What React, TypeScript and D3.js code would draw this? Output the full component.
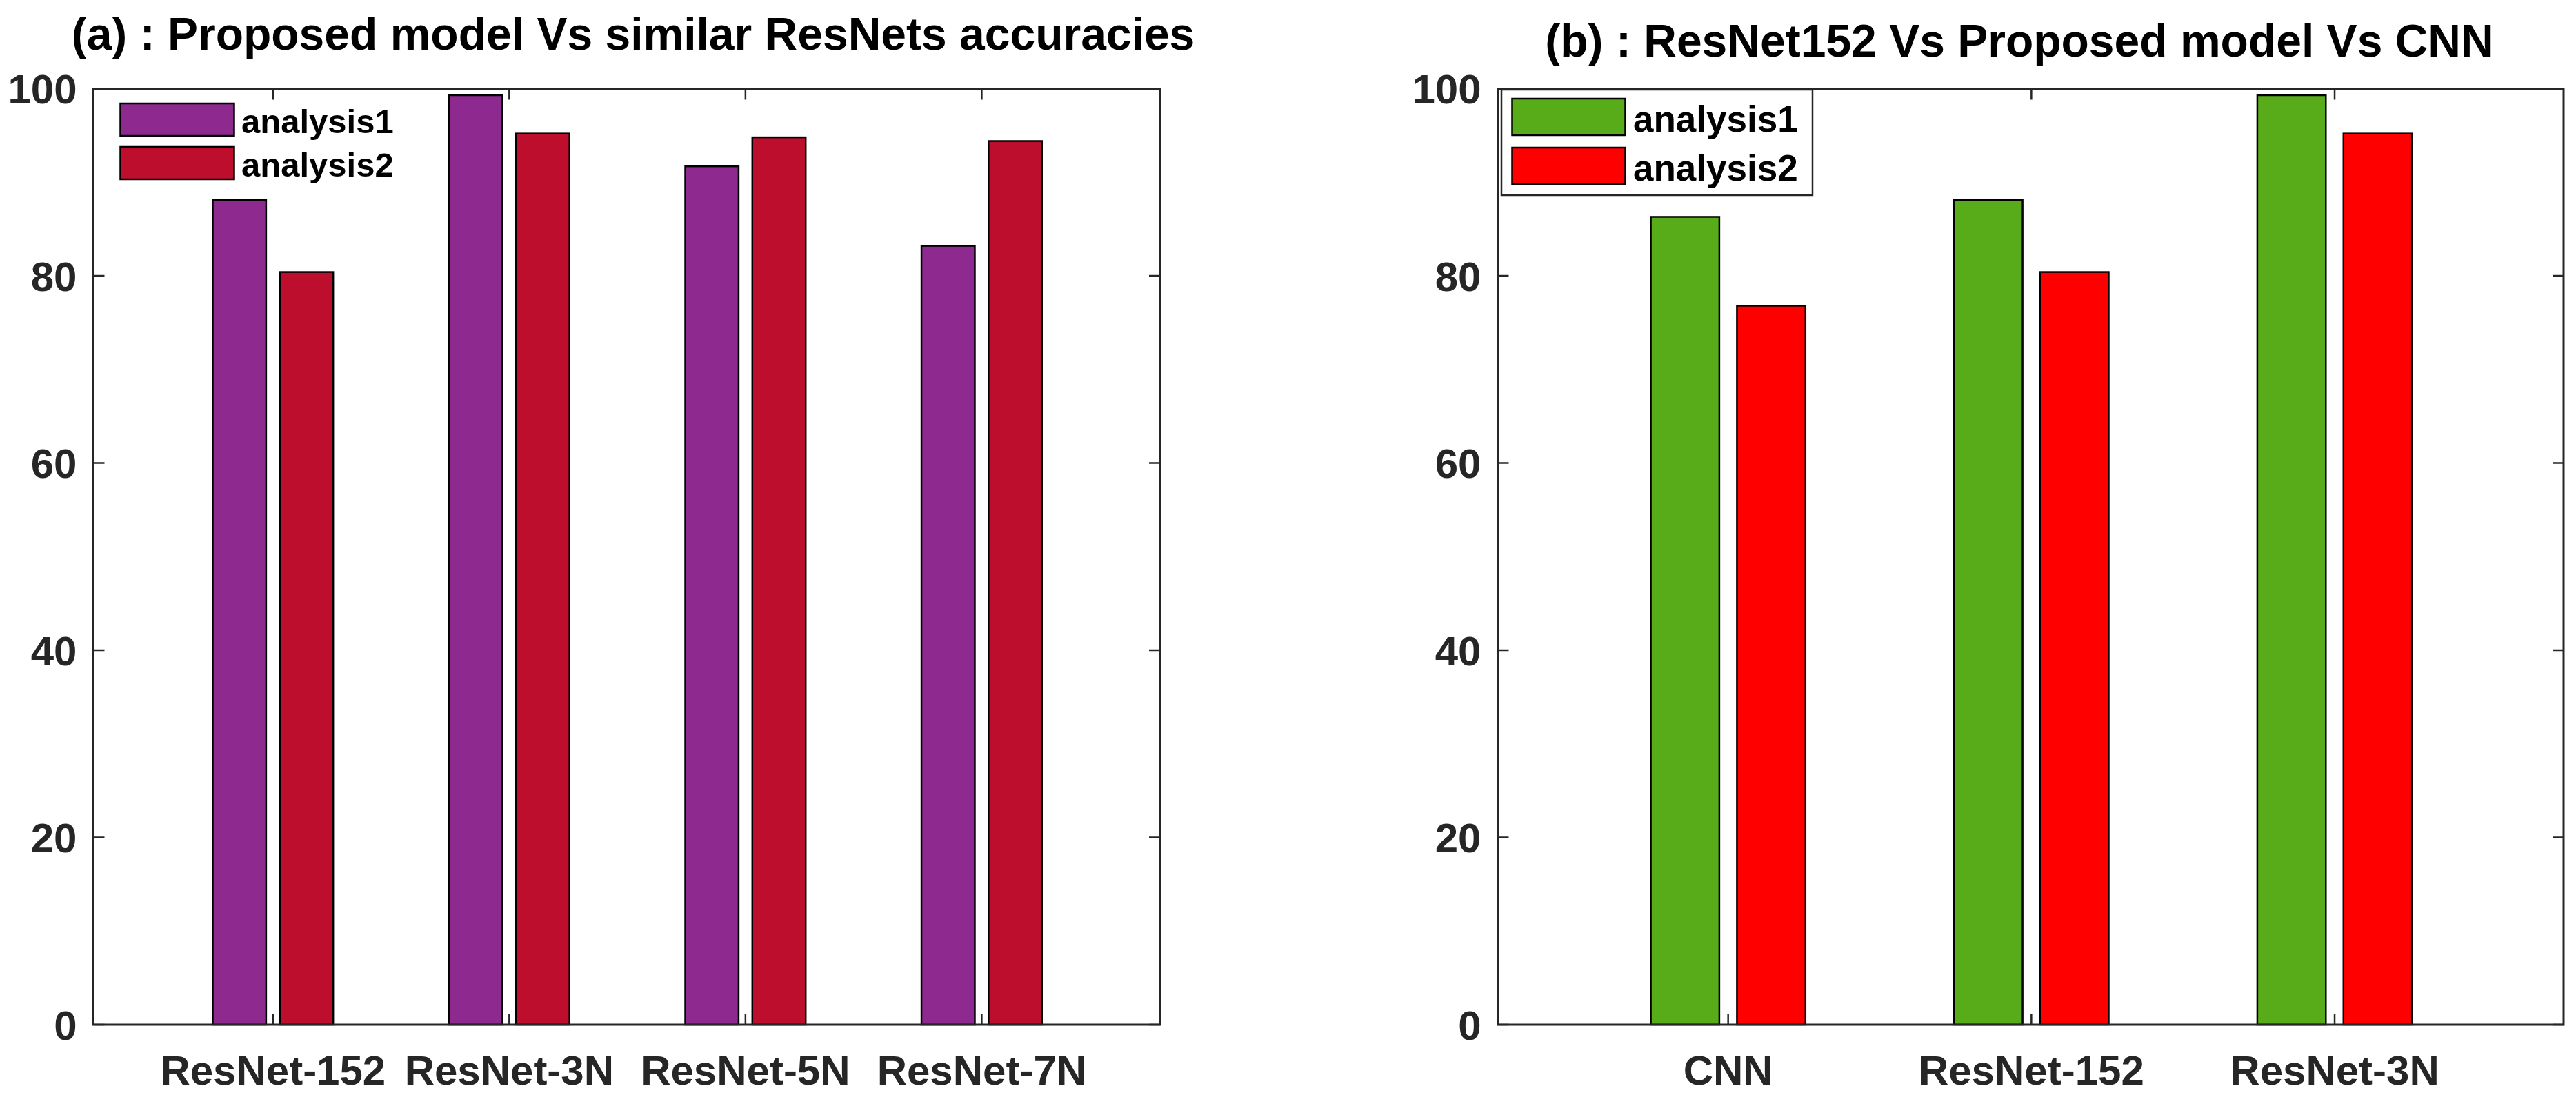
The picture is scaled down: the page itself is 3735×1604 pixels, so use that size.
import React from "react";
import * as d3 from "d3";

const catsA = ["ResNet-152", "ResNet-3N", "ResNet-5N", "ResNet-7N"];
const a1A = [88.1, 99.3, 91.7, 83.2];
const a2A = [80.4, 95.2, 94.8, 94.4];

const catsB = ["CNN", "ResNet-152", "ResNet-3N"];
const a1B = [86.3, 88.1, 99.3];
const a2B = [76.8, 80.4, 95.2];

const yTicks = [0, 20, 40, 60, 80, 100];
const seriesNames = ["analysis1", "analysis2"];

const W = 3735;
const H = 1604;
const FONT = "'Liberation Sans', Arial, Helvetica, sans-serif";
const AX = "#262626";

type PanelProps = {
  left: number;
  right: number;
  title: string;
  titleX: number;
  titleY: number;
  titleSize: number;
  cats: string[];
  s1: number[];
  s2: number[];
  colors: string[];
  legend: {
    box: boolean;
    bx: number; by: number; bw: number; bh: number;
    sx: number; sw: number; sh: number;
    rows: number[];
    tx: number; fs: number; base: number;
  };
};

function Panel(p: PanelProps) {
  const top = 128.5;
  const bottom = 1486;
  const n = p.cats.length;
  const x = d3.scaleLinear().domain([0.24, n + 0.755]).range([p.left, p.right]);
  const y = d3.scaleLinear().domain([0, 100]).range([bottom, top]);
  const bw = 0.226;
  const off = 0.142;
  const idx = d3.range(1, n + 1);
  const tickLen = 16;
  const series = [p.s1, p.s2];
  return (
    <g>
      <text x={p.titleX} y={p.titleY} fontFamily={FONT} fontWeight="bold" fontSize={p.titleSize} textAnchor="middle" fill="#000">{p.title}</text>
      <rect x={p.left} y={top} width={p.right - p.left} height={bottom - top} fill="#fff" />
      {series.map((s, si) =>
        s.map((v, i) => {
          const cx = x(idx[i]) + (si === 0 ? -off : off) * (x(1) - x(0));
          const w = bw * (x(1) - x(0));
          return (
            <rect key={`b${si}-${i}`} x={cx - w / 2} y={y(v)} width={w} height={y(0) - y(v)} fill={p.colors[si]} stroke="#000" strokeWidth={2.5} />
          );
        })
      )}
      {yTicks.map((t) => (
        <g key={`yt${t}`}>
          <line x1={p.left} x2={p.left + tickLen} y1={y(t)} y2={y(t)} stroke={AX} strokeWidth={2.5} />
          <line x1={p.right} x2={p.right - tickLen} y1={y(t)} y2={y(t)} stroke={AX} strokeWidth={2.5} />
          <text x={p.left - 24} y={y(t)} dy="0.36em" textAnchor="end" fontFamily={FONT} fontWeight="bold" fontSize={60} fill="#262626">{t}</text>
        </g>
      ))}
      {idx.map((c, i) => (
        <g key={`xt${c}`}>
          <line x1={x(c)} x2={x(c)} y1={bottom} y2={bottom - tickLen} stroke={AX} strokeWidth={2.5} />
          <line x1={x(c)} x2={x(c)} y1={top} y2={top + tickLen} stroke={AX} strokeWidth={2.5} />
          <text x={x(c)} y={1573} textAnchor="middle" fontFamily={FONT} fontWeight="bold" fontSize={60} fill="#262626">{p.cats[i]}</text>
        </g>
      ))}
      <rect x={p.left} y={top} width={p.right - p.left} height={bottom - top} fill="none" stroke={AX} strokeWidth={3} />
      <g>
        {p.legend.box && (
          <rect x={p.legend.bx} y={p.legend.by} width={p.legend.bw} height={p.legend.bh} fill="#fff" stroke={AX} strokeWidth={2.5} />
        )}
        {seriesNames.map((nm, i) => (
          <g key={nm}>
            <rect x={p.legend.sx} y={p.legend.rows[i]} width={p.legend.sw} height={p.legend.sh} fill={p.colors[i]} stroke="#000" strokeWidth={2.5} />
            <text x={p.legend.tx} y={p.legend.rows[i] + p.legend.base} fontFamily={FONT} fontWeight="bold" fontSize={p.legend.fs} fill="#000">{nm}</text>
          </g>
        ))}
      </g>
    </g>
  );
}

export default function App() {
  return (
    <svg width={W} height={H} viewBox={`0 0 ${W} ${H}`} style={{ position: "absolute", left: 0, top: 0, display: "block", background: "#fff" }}>
      <rect x={0} y={0} width={W} height={H} fill="#fff" />
      <Panel
        left={135.5}
        right={1682}
        title="(a) : Proposed model Vs similar ResNets accuracies"
        titleX={918}
        titleY={72}
        titleSize={66}
        cats={catsA}
        s1={a1A}
        s2={a2A}
        colors={["#8E2A8F", "#BE0E2E"]}
        legend={{ box: false, bx: 0, by: 0, bw: 0, bh: 0, sx: 174.5, sw: 165, sh: 47, rows: [150, 213], tx: 350, fs: 49, base: 43 }}
      />
      <Panel
        left={2171.5}
        right={3717}
        title="(b) : ResNet152 Vs Proposed model Vs CNN"
        titleX={2928}
        titleY={82}
        titleSize={66}
        cats={catsB}
        s1={a1B}
        s2={a2B}
        colors={["#58AB19", "#FF0000"]}
        legend={{ box: true, bx: 2177, by: 130, bw: 451, bh: 153, sx: 2192.5, sw: 164, sh: 53, rows: [143, 214], tx: 2368, fs: 53, base: 48 }}
      />
    </svg>
  );
}
